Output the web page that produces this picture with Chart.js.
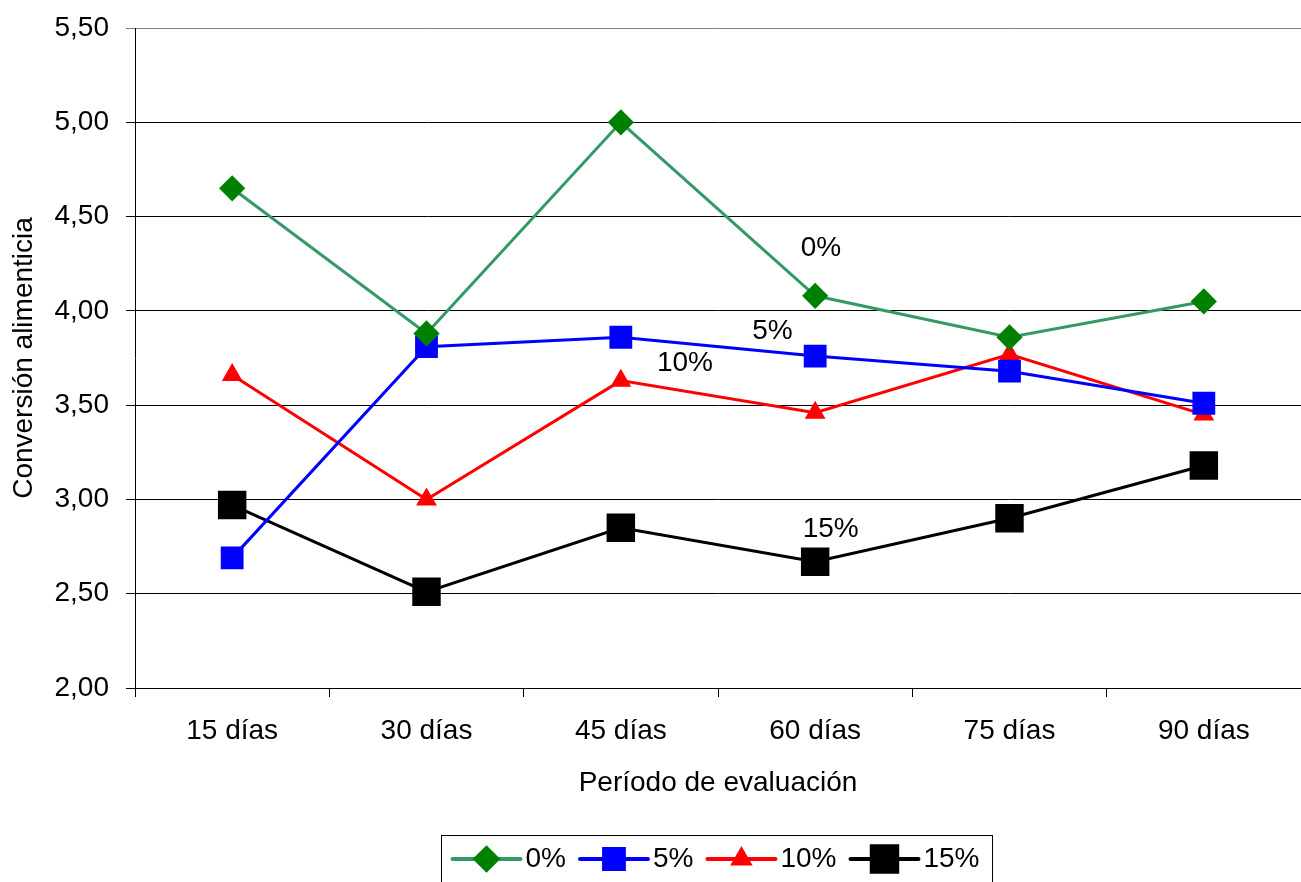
<!DOCTYPE html>
<html>
<head>
<meta charset="utf-8">
<script src="https://cdn.jsdelivr.net/npm/chart.js@4.4.1/dist/chart.umd.min.js"></script>
<style>
  body { margin: 0; background: #fff; }
  #wrap { width: 1301px; height: 882px; }
</style>
</head>
<body>
<div id="wrap"><canvas id="conversionChart" width="1301" height="882"></canvas></div>
<script>
const periodos = ["15 días", "30 días", "45 días", "60 días", "75 días", "90 días"];
const serie0 = [4.65, 3.88, 5.00, 4.08, 3.86, 4.05];
const serie5 = [2.69, 3.81, 3.86, 3.76, 3.68, 3.51];
const serie10 = [3.66, 3.00, 3.63, 3.46, 3.77, 3.45];
const serie15 = [2.97, 2.51, 2.85, 2.67, 2.90, 3.18];
// text labels next to the lines: [category index, value, text]
const etiquetas = [
  [3.03, 4.33, "0%"],
  [2.78, 3.89, "5%"],
  [2.33, 3.72, "10%"],
  [3.08, 2.84, "15%"]
];

const FONT = "'Liberation Sans', Arial, sans-serif";
const FSIZE = 28;

const labelPlugin = {
  id: "lineLabels",
  afterDatasetsDraw(chart) {
    const ctx = chart.ctx;
    const xs = chart.scales.x, ys = chart.scales.y;
    ctx.save();
    ctx.font = FSIZE + "px " + FONT;
    ctx.fillStyle = "#000";
    ctx.textAlign = "center";
    ctx.textBaseline = "middle";
    etiquetas.forEach(([i, v, t]) => {
      ctx.fillText(t, xs.getPixelForValue(i), ys.getPixelForValue(v));
    });
    ctx.restore();
  }
};

// legend drawn as a boxed row: line + marker + text
const boxLegend = {
  id: "boxLegend",
  afterDraw(chart) {
    const ctx = chart.ctx;
    ctx.save();
    ctx.font = FSIZE + "px " + FONT;
    const lineLen = 68, gapTxt = 5, gapItem = 14, padL = 11, padR = 13;
    let total = padL + padR;
    chart.data.datasets.forEach((ds, i) => {
      total += lineLen + gapTxt + ctx.measureText(ds.label).width;
      if (i < chart.data.datasets.length - 1) total += gapItem;
    });
    const left = 441.5;
    const top = 835.5, cy = 859;
    ctx.strokeStyle = "#000";
    ctx.lineWidth = 1;
    ctx.strokeRect(left, top, total, 60);
    let x = left + padL;
    chart.data.datasets.forEach((ds) => {
      ctx.strokeStyle = ds.borderColor;
      ctx.lineWidth = 4;
      ctx.lineCap = "round";
      ctx.beginPath();
      ctx.moveTo(x, cy);
      ctx.lineTo(x + lineLen, cy);
      ctx.stroke();
      ctx.fillStyle = ds.pointBackgroundColor;
      ctx.strokeStyle = ds.pointBorderColor;
      Chart.helpers.drawPoint(ctx, {
        pointStyle: ds.pointStyle,
        radius: ds.pointRadius,
        rotation: 0,
        borderWidth: 1
      }, x + lineLen / 2, cy);
      x += lineLen + gapTxt;
      ctx.fillStyle = "#000";
      ctx.textAlign = "left";
      ctx.textBaseline = "middle";
      ctx.fillText(ds.label, x, cy);
      x += ctx.measureText(ds.label).width + gapItem;
    });
    ctx.restore();
  }
};

const ctx = document.getElementById("conversionChart").getContext("2d");
new Chart(ctx, {
  type: "line",
  data: {
    labels: periodos,
    datasets: [
      {
        label: "0%",
        data: serie0,
        borderColor: "#339966",
        borderWidth: 3,
        pointStyle: "rectRot",
        pointRadius: 11,
        pointBackgroundColor: "#008000",
        pointBorderColor: "#008000",
        tension: 0
      },
      {
        label: "5%",
        data: serie5,
        borderColor: "#0000ff",
        borderWidth: 3,
        pointStyle: "rect",
        pointRadius: 14,
        pointBackgroundColor: "#0000ff",
        pointBorderColor: "#0000ff",
        tension: 0
      },
      {
        label: "10%",
        data: serie10,
        borderColor: "#ff0000",
        borderWidth: 3,
        pointStyle: "triangle",
        pointRadius: 9,
        pointBackgroundColor: "#ff0000",
        pointBorderColor: "#ff0000",
        tension: 0
      },
      {
        label: "15%",
        data: serie15,
        borderColor: "#000000",
        borderWidth: 3,
        pointStyle: "rect",
        pointRadius: 18,
        pointBackgroundColor: "#000000",
        pointBorderColor: "#000000",
        tension: 0
      }
    ]
  },
  options: {
    responsive: false,
    animation: false,
    layout: { autoPadding: false, padding: { top: 28, right: -4, bottom: 82, left: 0 } },
    plugins: {
      legend: { display: false },
      tooltip: { enabled: false }
    },
    scales: {
      x: {
        offset: true,
        afterFit(scale) {
          scale.height = 112;
          scale.paddingLeft = 0;
          scale.paddingRight = 0;
        },
        grid: {
          offset: true,
          drawOnChartArea: false,
          drawTicks: true,
          tickLength: 9,
          color: "#000"
        },
        border: { color: "#000", width: 1 },
        ticks: {
          color: "#000",
          font: { family: FONT, size: FSIZE },
          padding: 17,
          maxRotation: 0
        },
        title: {
          display: true,
          text: "Período de evaluación",
          color: "#000",
          font: { family: FONT, size: FSIZE },
          padding: { top: -2, bottom: 0 }
        }
      },
      y: {
        min: 2,
        max: 5.5,
        afterFit(scale) {
          scale.width = 135;
          scale.paddingTop = 0;
          scale.paddingBottom = 0;
        },
        grid: {
          color: (c) => (c.tick && c.tick.value === 5.5 ? "#808080" : "#000"),
          tickLength: 9,
          lineWidth: 1
        },
        border: { color: "#000", width: 1 },
        ticks: {
          stepSize: 0.5,
          color: "#000",
          font: { family: FONT, size: FSIZE },
          padding: 17,
          callback: (v) => v.toFixed(2).replace(".", ",")
        },
        title: {
          display: true,
          text: "Conversión alimenticia",
          color: "#000",
          font: { family: FONT, size: FSIZE },
          padding: { top: 7, bottom: 0 }
        }
      }
    }
  },
  plugins: [labelPlugin, boxLegend]
});
</script>
</body>
</html>
